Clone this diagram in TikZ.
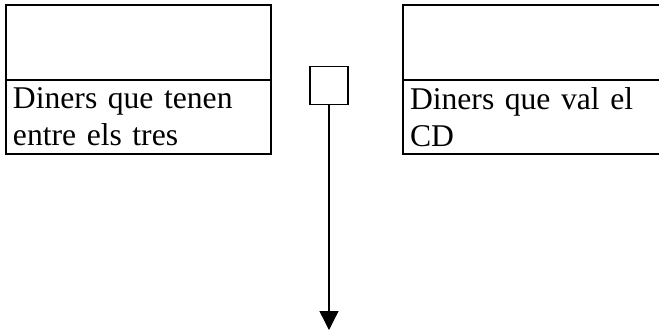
\documentclass[tikz,border=0pt]{standalone}
\usepackage{fontspec}
\setmainfont{Liberation Serif}
\usetikzlibrary{arrows.meta}

\begin{document}
\begin{tikzpicture}[
        caixa/.style={draw, line width=0.9pt, minimum width=5.300000cm, inner sep=0pt},
        capsa/.style={caixa, minimum height=1.500000cm},
        cos/.style={caixa, minimum height=1.480000cm, inner xsep=0.140000cm,
                text width=5.020000cm, align=left,
                font=\fontsize{18pt}{21pt}\selectfont},
        punt/.style={draw, line width=0.9pt, minimum size=0.760000cm, inner sep=0pt}]
        \clip (0cm, 0cm) rectangle (13.180000cm, -6.600000cm);
        \node (v0) [capsa] at (2.770000cm, -0.850000cm) {};
        \node (v1) [cos] at (2.770000cm, -2.340000cm) {Diners que tenen\\entre els tres};
        \node (v2) [capsa] at (10.710000cm, -0.850000cm) {};
        \node (v3) [cos] at (10.710000cm, -2.340000cm) {Diners que val el\\CD};
        \node (v4) [punt] at (6.580000cm, -1.710000cm) {};
        \coordinate (v5) at (6.580000cm, -6.600000cm);
        \draw [line width=0.75pt, -{Triangle[width=0.38cm, length=0.38cm]}] (v4) -- (v5);
\end{tikzpicture}
\end{document}
